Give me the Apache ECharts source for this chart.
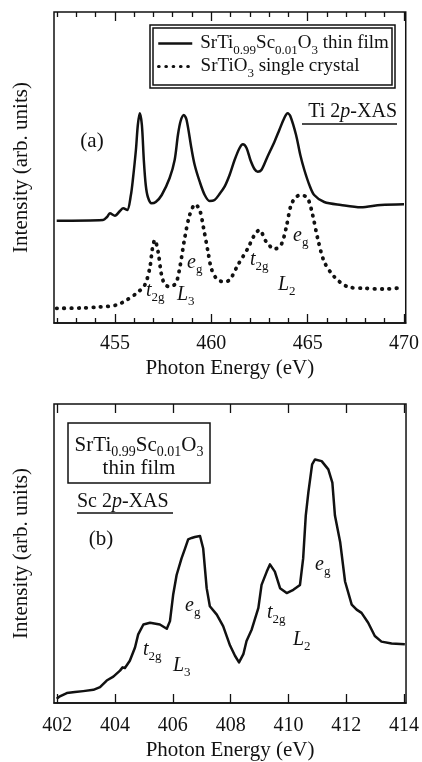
<!DOCTYPE html>
<html>
<head>
<meta charset="utf-8">
<script src="https://cdn.jsdelivr.net/npm/echarts/dist/echarts.min.js"></script>
<style>
html, body { margin: 0; padding: 0; background: #fff; }
#container { width: 422px; height: 762px; }
</style>
</head>
<body>
<div id="container"></div>
<script>
// panel (a): Ti 2p-XAS
var tiEnergy = [451.98, 454.38, 454.59, 454.74, 455.0, 455.26, 455.43, 455.64, 455.83, 455.93,
    456.09, 456.19, 456.29, 456.40, 456.50, 456.60, 456.71, 456.90, 457.12, 457.43,
    457.84, 458.10, 458.27, 458.41, 458.58, 458.72, 458.97, 459.14, 459.40, 459.66,
    459.91, 460.17, 460.43, 460.69, 460.95, 461.21, 461.47, 461.64, 461.83, 462.03,
    462.24, 462.41, 462.60, 462.91, 463.28, 463.53, 463.79, 463.96, 464.10, 464.40,
    464.62, 464.83, 465.09, 465.34, 465.86, 466.73, 467.76, 468.80, 470.0];
var tiFilm = [102.3, 103, 106, 109.7, 107.3, 112, 114.7, 113, 128, 143,
    173, 198, 209.7, 198, 163, 138, 126, 119.7, 121, 128,
    145, 163, 188, 202, 208, 203, 174.7, 158, 141.3, 128,
    122, 123, 129, 136.3, 148, 163, 175, 178.7, 175, 163,
    154, 151.3, 153, 166, 181.3, 193, 205, 209.7, 207, 188,
    168, 153, 138, 128, 121, 118, 115.7, 118, 118.7];

var stoEnergy = [451.98, 453.19, 454.22, 455.09, 455.61, 456.12, 456.55, 456.81, 456.95, 457.07,
    457.24, 457.42, 457.59, 457.84, 458.16, 458.36, 458.62, 458.88, 459.17, 459.40,
    459.60, 459.83, 460.00, 460.26, 460.60, 460.95, 461.38, 461.90, 462.24, 462.50,
    462.85, 463.28, 463.62, 463.88, 464.14, 464.40, 464.66, 465.00, 465.26, 465.52,
    465.86, 466.38, 467.07, 467.93, 468.97, 469.91];
var stoCrystal = [14.7, 15, 16, 18, 23, 29.7, 38, 55, 75, 83,
    71.3, 48, 38.7, 36.3, 39.7, 54.7, 84.7, 108, 118.7, 113,
    95, 71.3, 54.7, 44.7, 41.3, 43, 58, 74.7, 88, 93,
    81.3, 74, 78, 94.7, 118, 126, 128, 124.7, 108, 84.7,
    61.3, 46.3, 36.3, 34.7, 34, 35.3];

// panel (b): Sc 2p-XAS
var scEnergy = [401.98, 402.09, 402.33, 402.61, 402.90, 403.25, 403.48, 403.71, 403.94, 404.17,
    404.26, 404.34, 404.51, 404.69, 404.80, 404.98, 405.21, 405.55, 405.79, 405.90,
    406.01, 406.13, 406.30, 406.42, 406.53, 406.65, 406.76, 406.94, 407.05, 407.17,
    407.28, 407.52, 407.74, 407.98, 408.15, 408.29, 408.44, 408.55, 408.73, 408.96,
    409.07, 409.25, 409.36, 409.53, 409.71, 409.94, 410.17, 410.40, 410.51, 410.60,
    410.69, 410.82, 410.92, 411.15, 411.38, 411.52, 411.61, 411.79, 411.96, 412.19,
    412.36, 412.53, 412.76, 412.99, 413.22, 413.57, 414.03];
var scFilm = [4.3, 6.7, 10, 11, 12, 13.3, 16, 22.7, 26.7, 32.7,
    36, 35.3, 42.7, 56, 69.3, 79.3, 81, 79.3, 75, 82.7,
    109.3, 129.3, 146, 156, 165.3, 166.7, 167.7, 168.7, 156, 116,
    97.7, 89.3, 77.7, 58, 47.7, 41, 49.3, 62.7, 74.3, 96,
    119.3, 132.7, 140, 132.7, 116, 111, 114.3, 119.3, 146, 189.3,
    212.7, 241, 246, 244.3, 236, 222.7, 189.3, 162.7, 122.7, 99.3,
    94.3, 91, 81, 67.7, 62, 60, 59.3];

var tiMajor = [455, 460, 465, 470];
var tiMinor = [452, 453, 454, 456, 457, 458, 459, 461, 462, 463, 464, 466, 467, 468, 469];
var scMajor = [402, 404, 406, 408, 410, 412, 414];

var FONT = '"Liberation Serif", "Times New Roman", serif';
var INK = '#111';

function pairs(xs, ys) {
    var out = [];
    for (var i = 0; i < xs.length; i++) out.push([xs[i], ys[i]]);
    return out;
}

var rich = {
    n: { fontFamily: FONT, fontSize: 20, color: INK },
    i: { fontFamily: FONT, fontSize: 20, fontStyle: 'italic', color: INK },
    s: { fontFamily: FONT, fontSize: 13, color: INK, padding: [14, 0, 0, 0] },
    b: { fontFamily: FONT, fontSize: 21, color: INK },
    bs: { fontFamily: FONT, fontSize: 14, color: INK, padding: [14, 0, 0, 0] },
    ln: { fontFamily: FONT, fontSize: 19, color: INK },
    ls: { fontFamily: FONT, fontSize: 13, color: INK, padding: [14, 0, 0, 0] }
};

// text placed on the page
function tag(text, x, y, align) {
    return {
        type: 'text', x: x, y: y, z: 10,
        style: { text: text, rich: rich, align: align || 'left', verticalAlign: 'middle',
                 fill: INK, font: '20px ' + FONT }
    };
}
function rule(x1, x2, y) {
    return { type: 'line', z: 10, shape: { x1: x1, y1: y, x2: x2, y2: y },
             style: { stroke: INK, lineWidth: 1.3 } };
}
function box(x, y, w, h) {
    return { type: 'rect', z: 10, shape: { x: x, y: y, width: w, height: h },
             style: { fill: null, stroke: INK, lineWidth: 1.5 } };
}

function tickAxis(grid, pos, min, max, values, len, withLabels, name, margin, gap) {
    return {
        type: 'value', gridIndex: grid, position: pos, min: min, max: max,
        axisLine: { show: withLabels, onZero: false, lineStyle: { color: INK, width: 1.5 } },
        axisTick: { show: true, inside: true, length: len, customValues: values,
                    lineStyle: { color: INK, width: 1.3 } },
        axisLabel: { show: withLabels && pos === 'bottom', customValues: values, margin: margin || 8,
                     fontFamily: FONT, fontSize: 20, color: INK },
        splitLine: { show: false },
        name: name || '', nameLocation: 'middle', nameGap: gap || 33,
        nameTextStyle: { fontFamily: FONT, fontSize: 21, color: INK }
    };
}

var dom = document.getElementById('container');
var myChart = echarts.init(dom);

var option = {
    animation: false,
    backgroundColor: '#fff',
    grid: [
        { left: 54, right: 15, top: 12, height: 311, show: true, borderColor: INK, borderWidth: 1.5 },
        { left: 54, right: 15, top: 404, height: 302, show: true, borderColor: INK, borderWidth: 1.5 }
    ],
    xAxis: [
        tickAxis(0, 'bottom', 451.84, 470.09, tiMajor, 9, true, 'Photon Energy (eV)', 11, 35),
        tickAxis(0, 'bottom', 451.84, 470.09, tiMinor, 5, false),
        tickAxis(0, 'top', 451.84, 470.09, tiMajor, 9, false),
        tickAxis(0, 'top', 451.84, 470.09, tiMinor, 5, false),
        tickAxis(1, 'bottom', 401.886, 414.07, scMajor, 9, true, 'Photon Energy (eV)', 13, 37),
        tickAxis(1, 'top', 401.886, 414.07, scMajor, 9, false)
    ],
    yAxis: [
        { type: 'value', gridIndex: 0, min: 0, max: 311, axisLine: { show: false }, axisTick: { show: false },
          axisLabel: { show: false }, splitLine: { show: false },
          name: 'Intensity (arb. units)', nameLocation: 'middle', nameGap: 22,
          nameTextStyle: { fontFamily: FONT, fontSize: 21, color: INK } },
        { type: 'value', gridIndex: 1, min: 0, max: 302, axisLine: { show: false }, axisTick: { show: false },
          axisLabel: { show: false }, splitLine: { show: false },
          name: 'Intensity (arb. units)', nameLocation: 'middle', nameGap: 22,
          nameTextStyle: { fontFamily: FONT, fontSize: 21, color: INK } }
    ],
    legend: [
        { data: ['film'], left: 157, top: 34, padding: 0, itemWidth: 34, itemHeight: 14,
          lineStyle: { width: 2.5 }, itemStyle: { opacity: 0 },
          formatter: function () { return '{ln|SrTi}{ls|0.99}{ln|Sc}{ls|0.01}{ln|O}{ls|3}{ln| thin film}'; },
          textStyle: { rich: rich, padding: [0, 0, 0, 3] } },
        { data: ['crystal'], left: 157, top: 57, padding: 0, itemWidth: 34, itemHeight: 14,
          lineStyle: { width: 3.2 }, itemStyle: { opacity: 0 },
          formatter: function () { return '{ln|SrTiO}{ls|3}{ln| single crystal}'; },
          textStyle: { rich: rich, padding: [0, 0, 0, 3] } }
    ],
    series: [
        { name: 'film', type: 'line', xAxisIndex: 0, yAxisIndex: 0, data: pairs(tiEnergy, tiFilm),
          symbol: 'none', smooth: 0.3, color: INK,
          lineStyle: { color: INK, width: 2.5, join: 'round' } },
        { name: 'crystal', type: 'line', xAxisIndex: 0, yAxisIndex: 0, data: pairs(stoEnergy, stoCrystal),
          symbol: 'none', smooth: 0.3, color: INK,
          lineStyle: { color: INK, width: 3.8, type: [0.5, 6.8], cap: 'round' } },
        { name: 'sc', type: 'line', xAxisIndex: 4, yAxisIndex: 1, data: pairs(scEnergy, scFilm),
          symbol: 'none', smooth: false, color: INK,
          lineStyle: { color: INK, width: 2.5, join: 'round' } }
    ],
    graphic: [
        // legend double frame
        box(150, 25, 245, 63),
        box(153, 28, 239, 57),
        tag('{n|Ti 2}{i|p}{n|-XAS}', 397, 112, 'right'),
        rule(302, 397, 124),
        tag('{b|(a)}', 92, 141, 'center'),
        tag('{i|t}{s|2g}', 146, 291),
        tag('{i|L}{s|3}', 177, 295),
        tag('{i|e}{s|g}', 187, 263),
        tag('{i|t}{s|2g}', 250, 260),
        tag('{i|L}{s|2}', 278, 285),
        tag('{i|e}{s|g}', 293, 236),
        // panel (b)
        box(68, 423, 142, 60),
        tag('{b|SrTi}{bs|0.99}{b|Sc}{bs|0.01}{b|O}{bs|3}', 139, 445, 'center'),
        tag('{b|thin film}', 139, 468, 'center'),
        tag('{n|Sc 2}{i|p}{n|-XAS}', 77, 502),
        rule(77, 173, 513),
        tag('{b|(b)}', 101, 539, 'center'),
        tag('{i|t}{s|2g}', 143, 650),
        tag('{i|L}{s|3}', 173, 666),
        tag('{i|e}{s|g}', 185, 606),
        tag('{i|t}{s|2g}', 267, 613),
        tag('{i|L}{s|2}', 293, 640),
        tag('{i|e}{s|g}', 315, 565)
    ]
};

if (option && typeof option === 'object') {
    myChart.setOption(option, true);
}
</script>
</body>
</html>
